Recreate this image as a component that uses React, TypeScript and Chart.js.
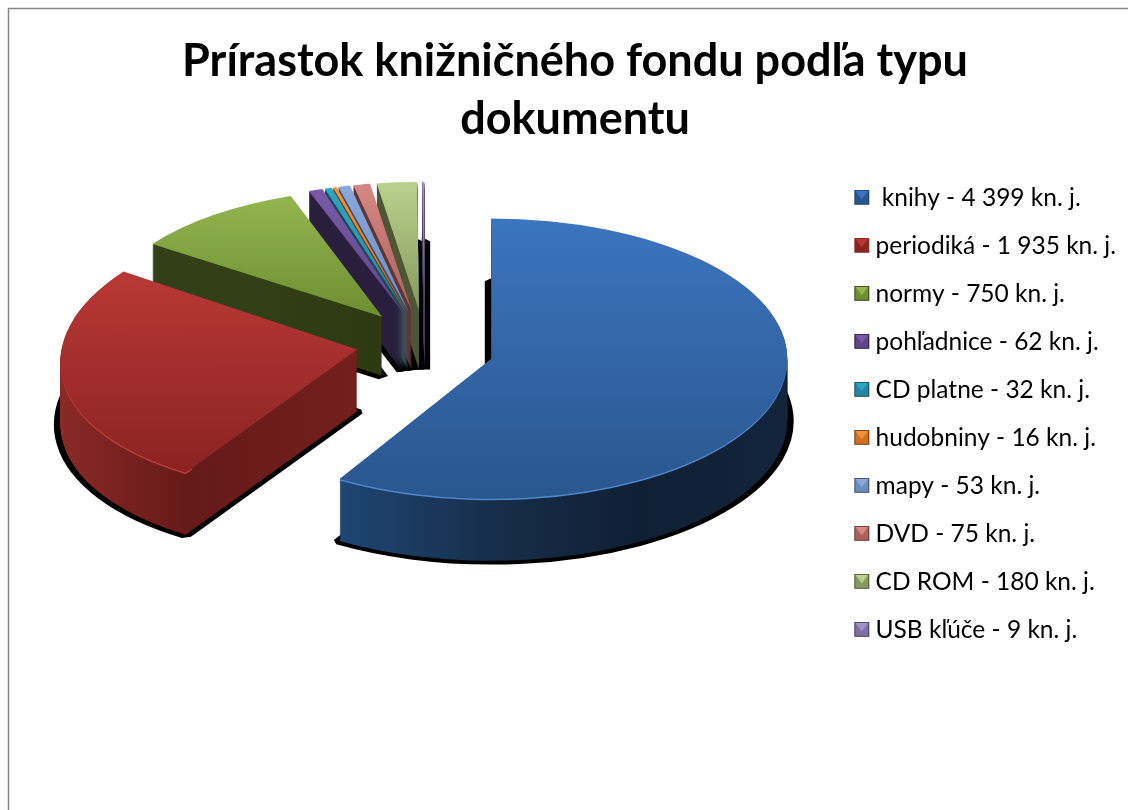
import React, { useEffect, useRef } from "react";
import { Chart, registerables } from "chart.js";

Chart.register(...registerables);

const categories = [" knihy - 4 399 kn. j.", "periodiká - 1 935 kn. j.", "normy - 750 kn. j.", "pohľadnice - 62 kn. j.", "CD platne - 32 kn. j.", "hudobniny - 16 kn. j.", "mapy - 53 kn. j.", "DVD - 75 kn. j.", "CD ROM - 180 kn. j.", "USB kľúče - 9 kn. j."];
const values = [4399, 1935, 750, 62, 32, 16, 53, 75, 180, 9];
const titleLines = ["Prírastok knižničného fondu podľa typu", "dokumentu"];

const topLight = ["#3b75bf", "#b93836", "#94b550", "#7a5aa8", "#2fa5c4", "#f39238", "#8aa8dc", "#d68884", "#bad28e", "#a393c6"];
const topDark = ["#2a568e", "#8a2322", "#6e8e32", "#5f4688", "#2585a0", "#d07020", "#6d8bbd", "#ae605c", "#87995e", "#7e70a0"];
const bevel = ["#4d88cf", "#bd3d39", "#9dbe58", "#7a5aa8", "#2fa5c4", "#f39238", "#8aa8dc", "#d68884", "#bad28e", "#a393c6"];
const sideStops = [
  ["#1f4572", "#1f4572", "#172e4b", "#101f34", "#12253c"],
  ["#8c2a27", "#651a19", "#741f1e", "#741f1e", "#741f1e"],
  ["#333f16", "#333f16", "#2d3a11", "#2d3a11", "#2d3a11"],
  ["#2a1e3d", "#2a1e3d", "#2a1e3d", "#2a1e3d", "#2a1e3d"],
  ["#174a58", "#174a58", "#174a58", "#174a58", "#174a58"],
  ["#6e3d12", "#6e3d12", "#6e3d12", "#6e3d12", "#6e3d12"],
  ["#3d4c66", "#3d4c66", "#3d4c66", "#3d4c66", "#3d4c66"],
  ["#5e3634", "#5e3634", "#5e3634", "#5e3634", "#5e3634"],
  ["#4c5636", "#4c5636", "#4c5636", "#4c5636", "#4c5636"],
  ["#453c5c", "#453c5c", "#453c5c", "#453c5c", "#453c5c"],
];

// Camera of the exploded 3D pie: a pie-plane point (u, v), in radii, goes to the screen through a perspective.
const camera = { cx: 424.5, cy: 342, bx: 294.5, by: 138.7, px: 0.08, py: 0.057, explode: 0.234, depth: 61 };

function project(u: number, v: number) {
  return [camera.cx + (camera.bx * u) / (1 - camera.px * v), camera.cy + (camera.by * v) / (1 - camera.py * v)];
}

function solve3(m: number[][], r: number[]) {
  const det = (a: number[][]) =>
    a[0][0] * (a[1][1] * a[2][2] - a[1][2] * a[2][1]) -
    a[0][1] * (a[1][0] * a[2][2] - a[1][2] * a[2][0]) +
    a[0][2] * (a[1][0] * a[2][1] - a[1][1] * a[2][0]);
  const d = det(m);
  return [0, 1, 2].map((col) => det(m.map((row, i) => row.map((val, j) => (j === col ? r[i] : val)))) / d);
}

// Best affine stand-in for the perspective over one slice.
// Slices wider than a half circle take an unsheared ellipse through the four axis points of their rim.
function fitSlice(t0: number, t1: number) {
  const mid = (t0 + t1) / 2;
  const ex = camera.explode * Math.sin(mid);
  const ey = -camera.explode * Math.cos(mid);
  const vMid = ey + 0.5 * -Math.cos(mid);
  const depth = camera.depth / (1 - camera.py * vMid);
  if (t1 - t0 > Math.PI) {
    const right = project(ex + 1, ey);
    const left = project(ex - 1, ey);
    const up = project(ex, ey - 1);
    const down = project(ex, ey + 1);
    return { a: (right[0] - left[0]) / 2, b: 0, c: 0, d: (down[1] - up[1]) / 2, e: project(ex, ey)[0], f: (down[1] + up[1]) / 2, depth };
  }
  const half = Math.max((t1 - t0) / 2, 0.5);
  const pts: number[][] = [];
  for (let i = 0; i < 8; i++) pts.push([0, 0]);
  for (let i = 0; i <= 8; i++) {
    const t = mid - half + (2 * half * i) / 8;
    pts.push([Math.sin(t), -Math.cos(t)]);
  }
  const m = [[0, 0, 0], [0, 0, 0], [0, 0, 0]];
  const rx = [0, 0, 0];
  const ry = [0, 0, 0];
  pts.forEach(([x, y]) => {
    const [sx, sy] = project(x + ex, y + ey);
    const row = [x, y, 1];
    for (let i = 0; i < 3; i++) {
      for (let j = 0; j < 3; j++) m[i][j] += row[i] * row[j];
      rx[i] += row[i] * sx;
      ry[i] += row[i] * sy;
    }
  });
  const [a, c, e] = solve3(m, rx);
  const [b, d, f] = solve3(m, ry);
  return { a, b, c, d, e, f, depth };
}

function makeMarker(i: number) {
  const shift = 3;
  const size = 15;
  const c = document.createElement("canvas");
  c.width = size + 2 * shift + 4;
  c.height = size + 1;
  const g = c.getContext("2d")!;
  const x0 = shift * 2 + 2;
  const tri = (pts: number[][], color: string) => {
    g.fillStyle = color;
    g.beginPath();
    pts.forEach(([x, y], k) => (k ? g.lineTo(x0 + x, y) : g.moveTo(x0 + x, y)));
    g.closePath();
    g.fill();
  };
  const s = size;
  tri([[0, 0], [s, 0], [s, s], [0, s]], sideStops[i][0]);
  tri([[1, 1], [s - 1, 1], [s - 1, s - 1], [1, s - 1]], topDark[i]);
  tri([[1, 1], [s - 1, 1], [s / 2, s / 2 + 2]], topLight[i]);
  return c;
}

const pie3d = {
  id: "pie3d",
  beforeDatasetsDraw(chart: any) {
    const ctx = chart.ctx;
    const arcs = chart.getDatasetMeta(0).data;
    const put = (arc: any, dy: number, patch: any, inner = 0) => {
      const fit = fitSlice(arc.startAngle + Math.PI / 2, arc.endAngle + Math.PI / 2);
      const L = arc.outerRadius;
      const saved = arc.options;
      const savedInner = arc.innerRadius;
      arc.options = { ...saved, ...patch };
      arc.innerRadius = inner;
      ctx.save();
      ctx.translate(0, dy);
      ctx.transform(fit.a / L, fit.b / L, fit.c / L, fit.d / L, fit.e, fit.f);
      ctx.translate(-arc.x, -arc.y);
      arc.draw(ctx);
      ctx.restore();
      arc.options = saved;
      arc.innerRadius = savedInner;
    };
    const depthOf = (arc: any) => fitSlice(arc.startAngle + Math.PI / 2, arc.endAngle + Math.PI / 2).depth;

    // black contact shadow under every slice
    arcs.forEach((arc: any) => {
      put(arc, depthOf(arc) + 1, { backgroundColor: "#000", borderColor: "#000", borderWidth: 13, borderJoinStyle: "bevel" });
    });

    for (let i = arcs.length - 1; i >= 0; i--) {
      const arc = arcs[i];
      const L = arc.outerRadius;
      const side = ctx.createLinearGradient(arc.x - L, 0, arc.x + L, 0);
      sideStops[i].forEach((col, k) => side.addColorStop(k / 4, col));
      const d = Math.round(depthOf(arc));
      for (let y = d; y >= 1; y--) put(arc, y, { backgroundColor: side });

      const t0 = arc.startAngle + Math.PI / 2;
      const t1 = arc.endAngle + Math.PI / 2;
      let vMin = 0;
      let vMax = 0;
      for (let k = 0; k <= 40; k++) {
        const v = -Math.cos(t0 + ((t1 - t0) * k) / 40);
        vMin = Math.min(vMin, v);
        vMax = Math.max(vMax, v);
      }
      // thin highlight along a front-facing rim only
      if (vMax > 0.3) put(arc, 1.5, { backgroundColor: bevel[i] }, L - 12);
      const top = ctx.createLinearGradient(0, arc.y + vMin * L, 0, arc.y + vMax * L);
      top.addColorStop(0, topLight[i]);
      top.addColorStop(1, topDark[i]);
      put(arc, 0, { backgroundColor: top });
    }
    return false;
  },
  beforeDraw(chart: any) {
    const ctx = chart.ctx;
    ctx.save();
    ctx.fillStyle = "#fff";
    ctx.fillRect(0, 0, chart.width, chart.height);
    ctx.strokeStyle = "#868686";
    ctx.lineWidth = 1.5;
    ctx.strokeRect(8.5, 8.5, chart.width + 50, chart.height + 50);
    ctx.restore();
  },
};

export default function App() {
  const ref = useRef<HTMLCanvasElement>(null);
  useEffect(() => {
    const markers = categories.map((_, i) => makeMarker(i));
    const chart = new Chart(ref.current!, {
      type: "pie",
      data: {
        labels: categories,
        datasets: [{ data: values, backgroundColor: topLight, borderWidth: 0 }],
      },
      plugins: [pie3d],
      options: {
        animation: false,
        responsive: false,
        radius: 297,
        layout: { padding: { left: 24, right: 24 } },
        plugins: {
          tooltip: { enabled: false },
          title: {
            display: true,
            text: titleLines,
            color: "#000",
            font: { family: "Lato", weight: "bold", size: 45, lineHeight: 1.289 },
            padding: { top: 32, bottom: 14 },
          },
          legend: {
            position: "right",
            align: "start",
            fullSize: false,
            labels: {
              usePointStyle: true,
              pointStyleWidth: 9,
              padding: 23.5,
              color: "#000",
              font: { family: "Lato", size: 24.5, lineHeight: 1.02 },
              generateLabels: () =>
                categories.map((text, i) => ({ text, pointStyle: markers[i], fillStyle: topLight[i], strokeStyle: topLight[i], lineWidth: 0, index: i, hidden: false })),
            },
          },
        },
      },
    } as any);
    return () => chart.destroy();
  }, []);
  return <canvas ref={ref} width={1150} height={900} style={{ position: "fixed", left: 0, top: 0 }} />;
}
